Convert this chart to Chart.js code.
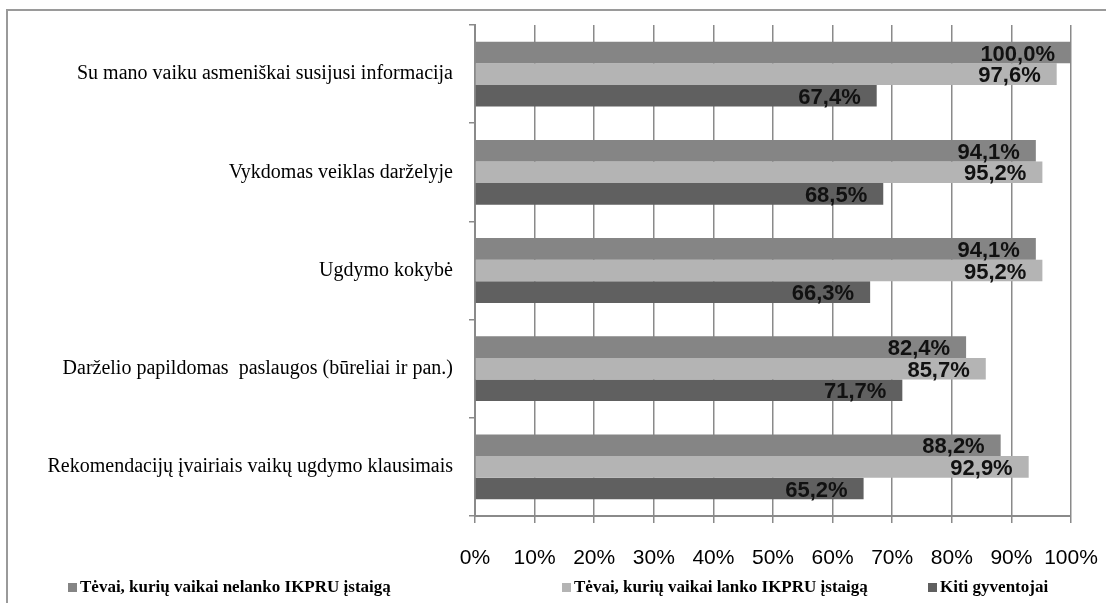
<!DOCTYPE html>
<html>
<head>
<meta charset="utf-8">
<script src="https://cdn.jsdelivr.net/npm/chart.js@4/dist/chart.umd.min.js"></script>
<style>
  html, body { margin: 0; padding: 0; background: #fff; }
  #wrap { width: 1106px; height: 603px; }
</style>
</head>
<body>
<div id="wrap"><canvas id="dashboard" width="1106" height="603"></canvas></div>
<script>
var categories = [
  'Su mano vaiku asmeniškai susijusi informacija',
  'Vykdomas veiklas darželyje',
  'Ugdymo kokybė',
  'Darželio papildomas  paslaugos (būreliai ir pan.)',
  'Rekomendacijų įvairiais vaikų ugdymo klausimais'
];
var seriesNames = [
  'Tėvai, kurių vaikai nelanko IKPRU įstaigą',
  'Tėvai, kurių vaikai lanko IKPRU įstaigą',
  'Kiti gyventojai'
];
var nelanko = [100.0, 94.1, 94.1, 82.4, 88.2];
var lanko = [97.6, 95.2, 95.2, 85.7, 92.9];
var kiti = [67.4, 68.5, 66.3, 71.7, 65.2];
var xTicks = [0, 10, 20, 30, 40, 50, 60, 70, 80, 90, 100];

var colors = ['#858585', '#b4b4b4', '#606060'];
var gridColor = '#8a8a8a';

function fmt(v) {
  return v.toFixed(1).replace('.', ',') + '%';
}

// value labels inside bar ends
var barLabels = {
  id: 'barLabels',
  afterDatasetsDraw: function (chart) {
    var ctx = chart.ctx;
    ctx.save();
    ctx.font = 'bold 22px "Liberation Sans", Arial, sans-serif';
    ctx.fillStyle = '#111';
    ctx.textAlign = 'right';
    ctx.textBaseline = 'middle';
    chart.data.datasets.forEach(function (ds, i) {
      chart.getDatasetMeta(i).data.forEach(function (bar, j) {
        ctx.fillText(fmt(ds.data[j]), bar.x - 16, bar.y + 2);
      });
    });
    ctx.restore();
  }
};

// frame lines + legend along the bottom
var frameAndLegend = {
  id: 'frameAndLegend',
  afterDraw: function (chart) {
    var ctx = chart.ctx;
    ctx.save();
    ctx.strokeStyle = '#9a9a9a';
    ctx.lineWidth = 2;
    ctx.beginPath();
    ctx.moveTo(7, 603);
    ctx.lineTo(7, 10);
    ctx.lineTo(1106, 10);
    ctx.stroke();

    var xs = [68, 562, 928];
    ctx.font = 'bold 17px "Liberation Serif", "Times New Roman", serif';
    ctx.textBaseline = 'middle';
    ctx.textAlign = 'left';
    chart.data.datasets.forEach(function (ds, i) {
      ctx.fillStyle = ds.backgroundColor;
      ctx.fillRect(xs[i], 583, 9, 9);
      ctx.fillStyle = '#000';
      ctx.fillText(ds.label, xs[i] + 12, 588);
    });
    ctx.restore();
  }
};

new Chart(document.getElementById('dashboard'), {
  type: 'bar',
  data: {
    labels: categories,
    datasets: [
      { label: seriesNames[0], data: nelanko, backgroundColor: colors[0] },
      { label: seriesNames[1], data: lanko, backgroundColor: colors[1] },
      { label: seriesNames[2], data: kiti, backgroundColor: colors[2] }
    ]
  },
  options: {
    indexAxis: 'y',
    responsive: false,
    animation: false,
    layout: { padding: { top: 25, right: 35, left: 0, bottom: 0 } },
    datasets: { bar: { categoryPercentage: 0.66, barPercentage: 1 } },
    plugins: {
      legend: { display: false },
      tooltip: { enabled: false }
    },
    scales: {
      x: {
        min: 0,
        max: 100,
        afterBuildTicks: function (scale) {
          scale.ticks = xTicks.map(function (v) { return { value: v }; });
        },
        afterFit: function (scale) {
          scale.height = 87;
          scale.paddingLeft = 0;
          scale.paddingRight = 0;
        },
        grid: { color: gridColor, lineWidth: 1.5, tickLength: 7 },
        border: { color: gridColor, width: 2 },
        ticks: {
          padding: 23,
          color: '#000',
          font: { family: '"Liberation Sans", Arial, sans-serif', size: 21 },
          maxRotation: 0,
          callback: function (v) { return v + '%'; }
        }
      },
      y: {
        afterFit: function (scale) {
          scale.width = 475;
          scale.paddingTop = 0;
          scale.paddingBottom = 0;
        },
        grid: { offset: true, drawOnChartArea: false, color: gridColor, lineWidth: 1.5, tickLength: 6 },
        border: { color: gridColor, width: 2 },
        ticks: {
          padding: 16,
          color: '#000',
          font: { family: '"Liberation Serif", "Times New Roman", serif', size: 20 }
        }
      }
    }
  },
  plugins: [barLabels, frameAndLegend]
});
</script>
</body>
</html>
